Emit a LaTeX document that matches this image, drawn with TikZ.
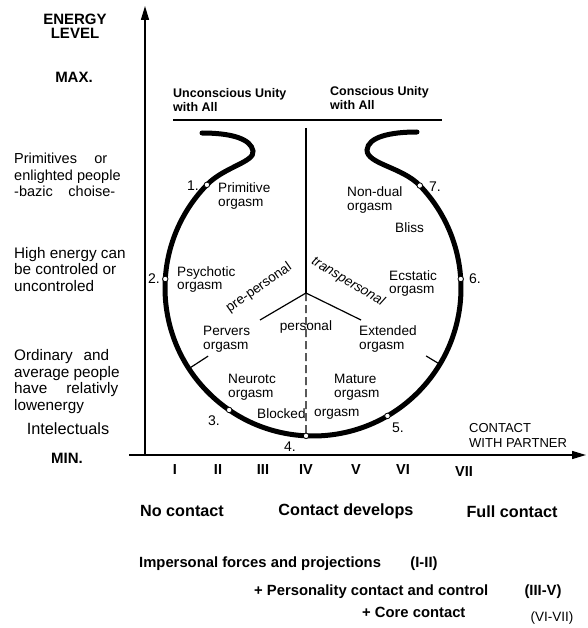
\documentclass[tikz,border=0pt]{standalone}
\usepackage{fontspec}
\setmainfont{Liberation Sans}
\usetikzlibrary{arrows.meta}
\tikzset{
  arr/.style={-{Triangle[length=14pt,width=8pt]},line width=1.5pt},
  ln/.style={line width=1.2pt},
  ring/.style={line width=5pt},
  lbl/.style={font=\fontsize{13.6}{13.8}\selectfont,inner sep=0pt,align=left},
  side/.style={font=\fontsize{15.3}{16.5}\selectfont,inner sep=0pt,align=left},
  hd/.style={font=\bfseries\fontsize{12.5}{14}\selectfont,inner sep=0pt,align=left},
  big/.style={font=\bfseries\fontsize{15}{14}\selectfont,inner sep=0pt,align=center},
  num/.style={font=\fontsize{14}{14}\selectfont,inner sep=0pt},
  rom/.style={font=\bfseries\fontsize{14.5}{14}\selectfont,inner sep=0pt},
  foot/.style={font=\bfseries\fontsize{14.8}{15}\selectfont,inner sep=0pt},
  dot/.style={circle,draw,fill=white,line width=0.8pt,inner sep=0pt,minimum size=5.5pt},
}

\begin{document}
\begin{tikzpicture}[x=1pt,y=1pt]
 \useasboundingbox (0,0) rectangle (587,-628);
 % axes
 \coordinate (o) at (145,-455);
 \coordinate (ytop) at (145,-6);
 \coordinate (xl) at (129,-455);
 \coordinate (xr) at (586,-455);
 \draw[arr] (o) -- (ytop);
 \draw[arr] (xl) -- (xr);

 % circle and hooks
 \coordinate (c) at (313,-288);
 \path (c) ++(135.8:148) coordinate (p1);
 \path (c) ++(176.5:148) coordinate (p2);
 \path (c) ++(235.5:148) coordinate (p3);
 \path (c) ++(267.3:148) coordinate (p4);
 \path (c) ++(300.2:148) coordinate (p5);
 \path (c) ++(3.5:148) coordinate (p6);
 \path (c) ++(43.8:148) coordinate (p7);
 \draw[ring] (p1) arc[start angle=135.8,end angle=403.8,radius=148];
 \draw[ring,line cap=round] (p1) .. controls (224,-167) and (255,-162) .. (253,-151)
   .. controls (251,-139) and (232,-133) .. (202,-133);
 \draw[ring,line cap=round] (p7) .. controls (402,-167) and (367,-164) .. (367,-150)
   .. controls (368,-137) and (390,-132) .. (417,-132);

 % top bar and divisions
 \coordinate (bl) at (173,-120);
 \coordinate (br) at (442,-120);
 \coordinate (vt) at (306,-128);
 \coordinate (v) at (306,-293);
 \coordinate (bla) at (260,-320);
 \coordinate (bra) at (361,-320);
 \draw[ln] (bl) -- (br);
 \draw[ln] (vt) -- (v);
 \draw[ln,dash pattern=on 8pt off 4pt] (v) -- (p4);
 \draw[ln] (bla) -- (v) -- (bra);
 \draw[ln] (c) ++(213:148) coordinate (t1a) -- ++(213:-23) coordinate (t1b);
 \draw[ln] (c) ++(329:148) coordinate (t2a) -- ++(329:-16) coordinate (t2b);

 \foreach \i in {1,...,7} \node[dot] (d\i) at (p\i) {};

 % numbers
 \node[num] (n1) at (193,-186) {1.};
 \node[num] (n2) at (154,-279) {2.};
 \node[num] (n3) at (214,-421) {3.};
 \node[num] (n4) at (290,-447) {4.};
 \node[num] (n5) at (398,-428) {5.};
 \node[num] (n6) at (475,-279) {6.};
 \node[num] (n7) at (435,-187) {7.};

 % labels inside
 \node[lbl,anchor=west] (prim) at (218,-196) {Primitive\\orgasm};
 \node[lbl,anchor=west] (psych) at (177,-279.5) {Psychotic\\orgasm};
 \node[lbl,anchor=west] (perv) at (203,-339.5) {Pervers\\orgasm};
 \node[lbl,anchor=west] (neur) at (228,-387.5) {Neurotc\\orgasm};
 \node[lbl,anchor=west] (block) at (257,-414) {Blocked};
 \node[lbl,anchor=west] (block2) at (314,-414) {orgasm};
 \node[lbl,anchor=west] (mat) at (334,-387.5) {Mature\\orgasm};
 \node[lbl,anchor=west] (ext) at (359,-339) {Extended\\orgasm};
 \node[lbl,anchor=west] (ecst) at (389,-283.5) {Ecstatic\\orgasm};
 \node[lbl,anchor=west] (bliss) at (395,-228) {Bliss};
 \node[lbl,anchor=west] (ndual) at (347,-200) {Non-dual\\orgasm};
 \node[lbl] (pers) at (306,-327) {personal};
 \node[lbl,rotate=35] (prep) at (259,-288) {pre-personal};
 \node[lbl,rotate=-31,font=\itshape\fontsize{13.6}{13.8}\selectfont] (trans) at (348,-282) {transpersonal};

 % headings
 \node[hd,anchor=west] (uncon) at (173,-100) {Unconscious Unity\\with All};
 \node[hd,anchor=west] (con) at (330,-98) {Conscious Unity\\with All};
 \node[big] (energy) at (75,-26) {ENERGY\\LEVEL};
 \node[big] (max) at (74,-77) {MAX.};
 \node[big] (min) at (67,-458) {MIN.};

 % left column
 \node[side,anchor=west,font=\fontsize{14.5}{16.5}\selectfont] (prims) at (14,-175.3) {\makebox[93pt][s]{Primitives or}\\enlighted people\\\makebox[101pt][s]{-bazic choise-}};
 \node[side,anchor=west] (high) at (14,-269.3) {High energy can\\be controled or\\uncontroled};
 \node[side,anchor=west] (ord) at (14,-381.5) {\makebox[95pt][s]{Ordinary and}\\average people\\\makebox[104pt][s]{have relativly}\\lowenergy};
 \node[side,font=\fontsize{16.3}{16.5}\selectfont] (intel) at (68,-429) {Intelectuals};

 % x axis
 \node[lbl,anchor=west,font=\fontsize{13}{15}\selectfont] (cwp) at (469,-435.5) {CONTACT\\WITH PARTNER};
 \foreach \r/\x in {I/175,II/218,III/263,IV/306,V/356,VI/403}
   \node[rom] (r\r) at (\x,-470) {\r};
 \node[rom] (rVII) at (464,-472) {VII};

 % bottom
 \node[foot,font=\bfseries\fontsize{16.2}{16}\selectfont] (noc) at (182,-511) {No contact};
 \node[foot,font=\bfseries\fontsize{16.2}{16}\selectfont] (cdev) at (346,-511) {Contact develops};
 \node[foot,font=\bfseries\fontsize{16.2}{16}\selectfont] (full) at (512,-512) {Full contact};
 \node[foot,anchor=west] (imp) at (139,-564) {Impersonal forces and projections};
 \node[foot] (imp2) at (424,-564) {(I-II)};
 \node[foot,anchor=west] (persc) at (254,-592) {+ Personality contact and control};
 \node[foot] (persc2) at (543,-592) {(III-V)};
 \node[foot,anchor=west] (core) at (362,-612) {+ Core contact};
 \node[num,font=\fontsize{13.5}{13}\selectfont] (core2) at (552,-618) {(VI-VII)};
\end{tikzpicture}
\end{document}
